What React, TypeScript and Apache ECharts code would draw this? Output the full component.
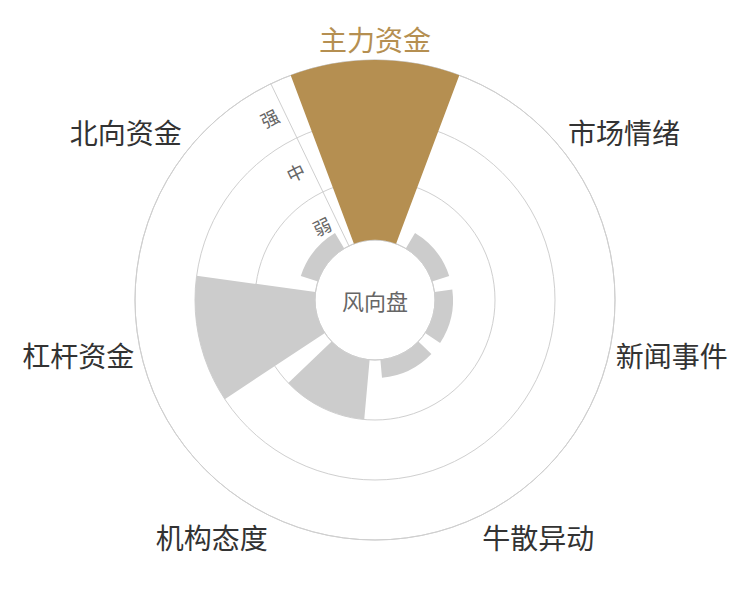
import React, { useEffect, useRef } from 'react';
import * as echarts from 'echarts';

const categories = ['主力资金', '市场情绪', '新闻事件', '牛散异动', '机构态度', '杠杆资金', '北向资金'];
const levels = ['弱', '中', '强'];
const strength = [3, 0.3, 0.3, 0.3, 1, 2, 0.3];
const highlighted = '主力资金';

const GOLD = '#b58f51';
const GREY = '#cccccc';
const LINE = '#cfcfcf';
const FONT = '"Noto Sans CJK SC", "Noto Sans", sans-serif';

// first category sits centred at the top, axis line on its left edge
const START_ANGLE = 90 + 180 / categories.length;

const buildOption = (): echarts.EChartsOption => ({
  animation: false,
  textStyle: { fontFamily: FONT },
  title: {
    text: '风向盘',
    left: 'center',
    top: 'middle',
    textStyle: { fontSize: 22, fontWeight: 'normal', color: '#666', fontFamily: FONT },
  },
  polar: [
    { center: ['50%', '50%'], radius: ['20%', '80%'] },
    { center: ['50%', '50%'], radius: ['20%', '80%'] },
  ],
  angleAxis: [
    {
      polarIndex: 0,
      type: 'category',
      data: categories,
      startAngle: START_ANGLE,
      axisLine: { show: true, lineStyle: { color: LINE, width: 1 } },
      axisTick: { show: false },
      splitLine: { show: false },
      axisLabel: {
        fontSize: 28,
        fontFamily: FONT,
        margin: 7,
        color: '#333',
        formatter: (value: string) => (value === highlighted ? `{hi|${value}}` : value),
        rich: {
          hi: { color: GOLD, fontSize: 28, fontFamily: FONT },
        },
      },
    },
    {
      polarIndex: 1,
      type: 'category',
      data: categories,
      startAngle: START_ANGLE,
      show: false,
    },
  ],
  radiusAxis: [
    {
      polarIndex: 0,
      type: 'value',
      min: 0,
      max: 3,
      interval: 1,
      axisLine: { show: false },
      axisTick: { show: false },
      axisLabel: { show: false },
      splitLine: { show: true, lineStyle: { color: LINE, width: 1 } },
    },
    {
      polarIndex: 1,
      type: 'category',
      data: levels,
      axisLine: { show: true, lineStyle: { color: LINE, width: 1 } },
      axisTick: { show: false },
      splitLine: { show: false },
      axisLabel: {
        fontSize: 18,
        color: '#666',
        fontFamily: FONT,
        rotate: START_ANGLE - 90,
        margin: 7,
      },
    },
  ],
  series: [
    {
      type: 'bar',
      coordinateSystem: 'polar',
      polarIndex: 0,
      barCategoryGap: '20%',
      data: strength.map((v, i) => ({
        value: v,
        itemStyle: { color: categories[i] === highlighted ? GOLD : GREY },
      })),
    },
  ],
});

export default function App() {
  const ref = useRef<HTMLDivElement>(null);

  useEffect(() => {
    if (!ref.current) return;
    const chart = echarts.init(ref.current, undefined, { renderer: 'svg' });
    chart.setOption(buildOption());
    return () => {
      chart.dispose();
    };
  }, []);

  return (
    <div
      ref={ref}
      style={{ position: 'absolute', left: 0, top: 0, width: 750, height: 600, background: '#fff' }}
    />
  );
}
